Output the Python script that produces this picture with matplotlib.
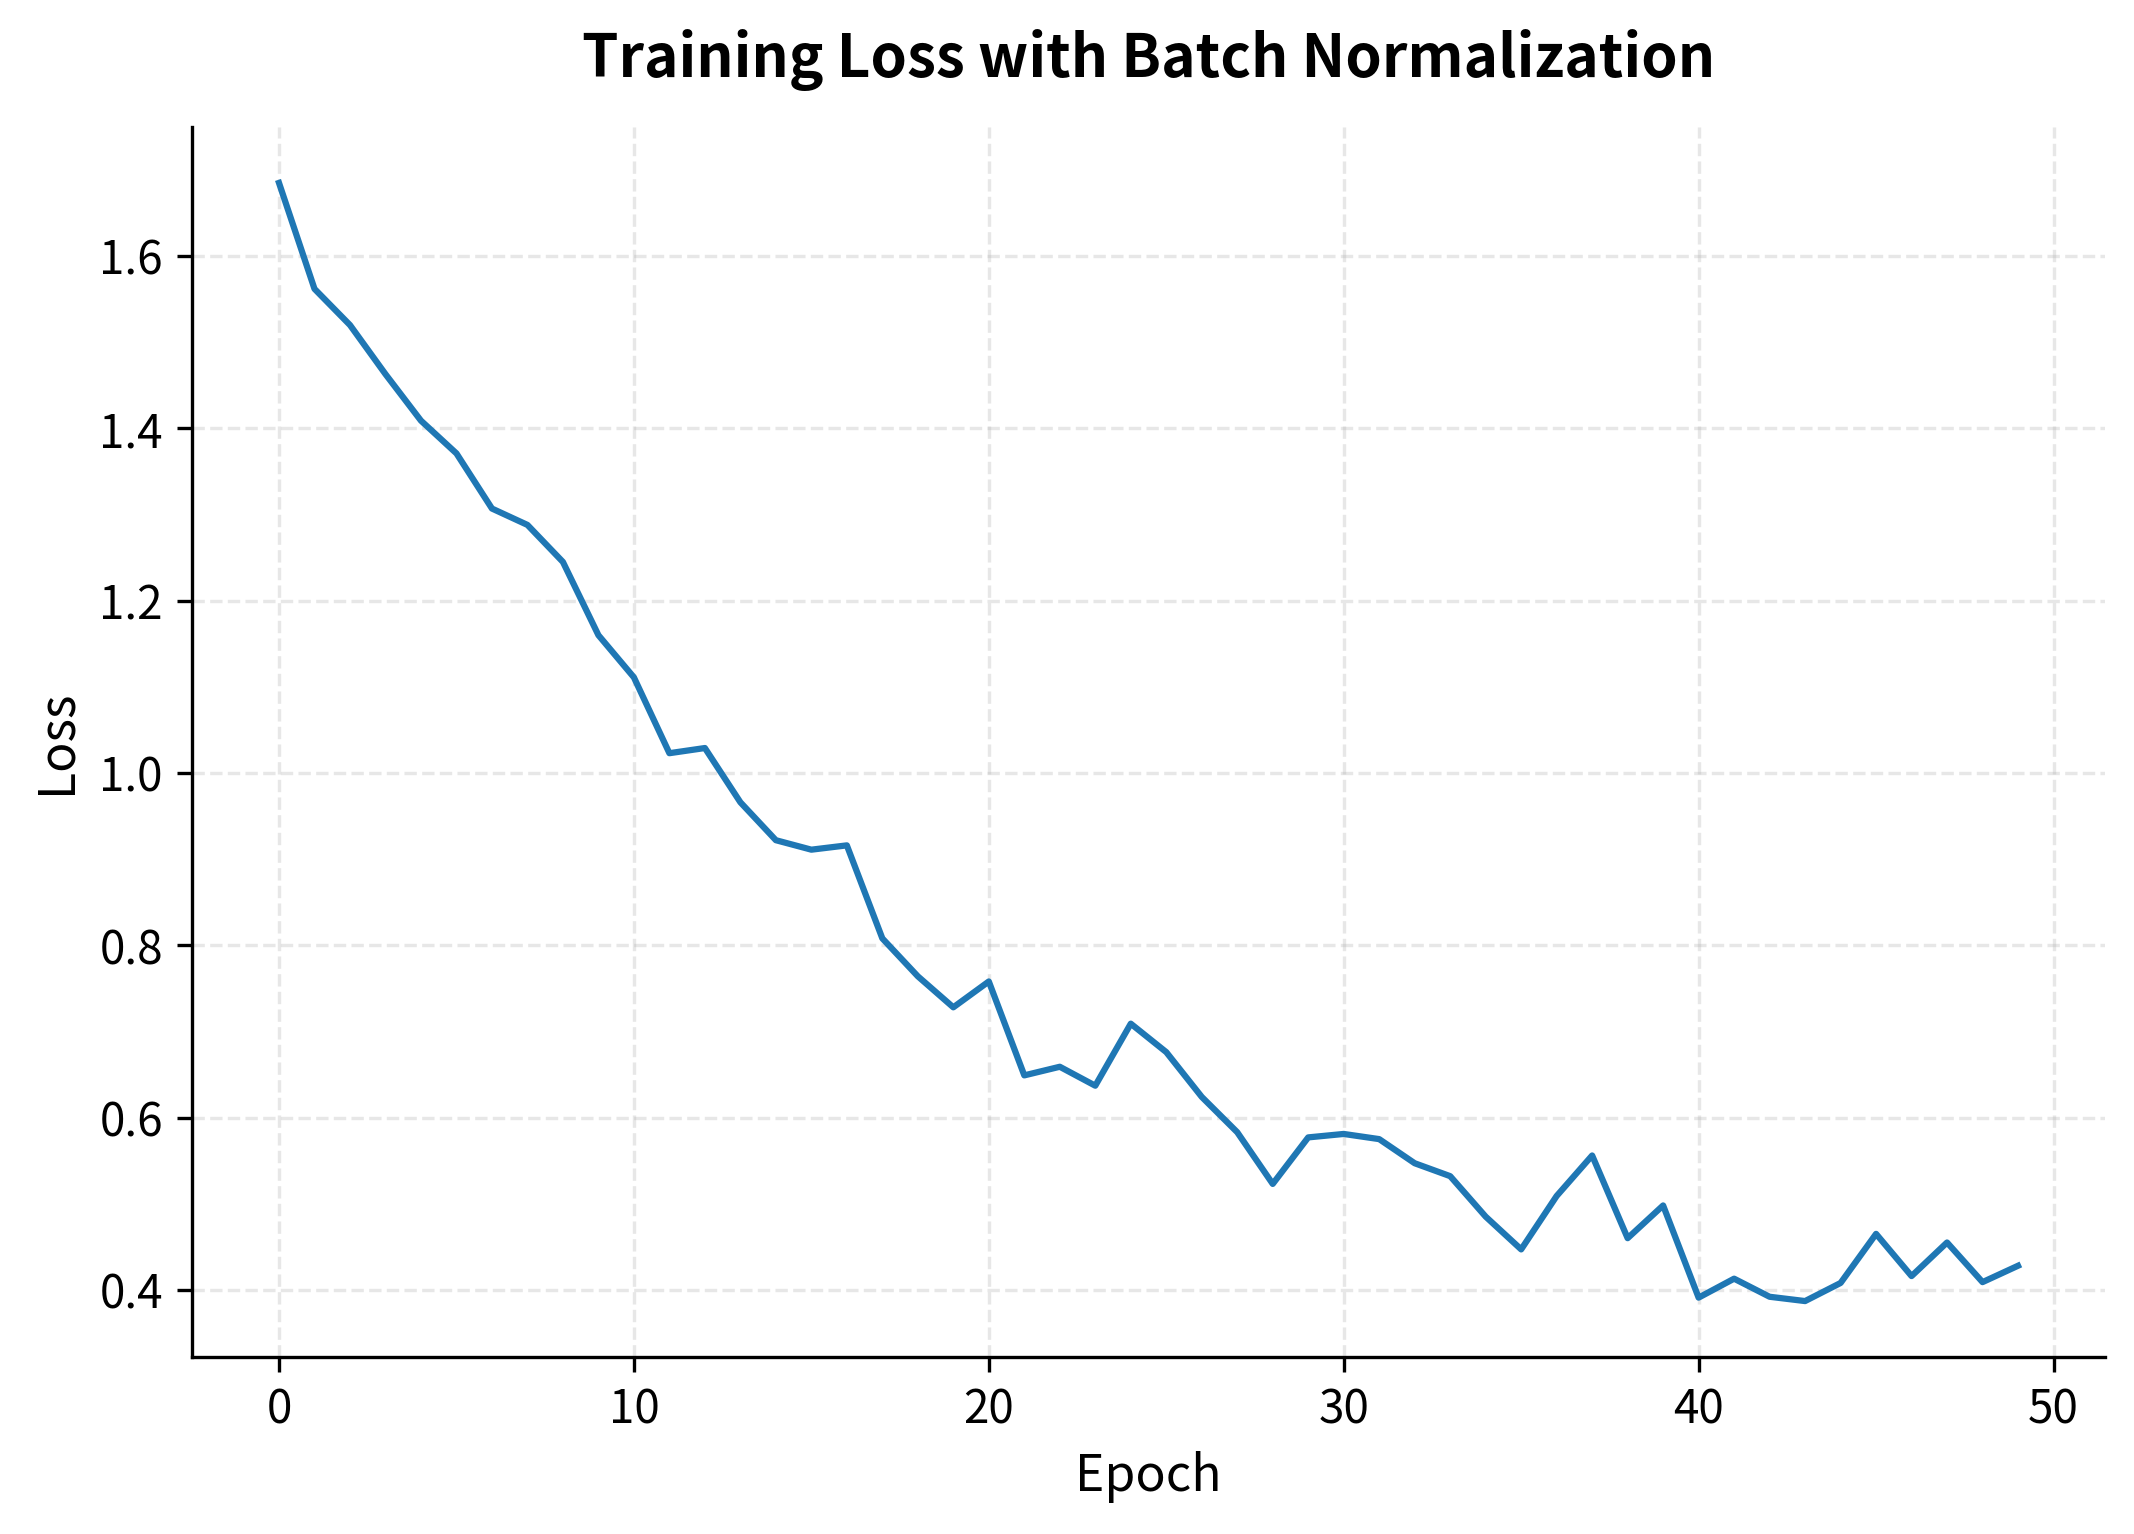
import matplotlib
matplotlib.use("Agg")
from matplotlib import pyplot as plt
import numpy as np

plt.rcParams['font.family'] = ['Noto Sans CJK SC', 'DejaVu Sans']

epochs = np.arange(50)
loss = [1.685, 1.562, 1.520, 1.463, 1.409, 1.371, 1.307, 1.288, 1.245, 1.160,
        1.111, 1.023, 1.029, 0.966, 0.922, 0.911, 0.916, 0.808, 0.764, 0.728,
        0.758, 0.649, 0.659, 0.637, 0.709, 0.676, 0.624, 0.583, 0.523, 0.577,
        0.581, 0.575, 0.547, 0.532, 0.485, 0.447, 0.509, 0.556, 0.460, 0.498,
        0.391, 0.413, 0.392, 0.387, 0.408, 0.465, 0.416, 0.455, 0.409, 0.428]

fig = plt.figure(figsize=(2134 / 300, 1534 / 300), dpi=300)
ax = fig.add_axes([0.090, 0.1154, 0.8964, 0.8018])

ax.plot(epochs, loss, color="#1f77b4", linewidth=1.5)

ax.set_title("Training Loss with Batch Normalization", fontsize=14, fontweight="bold", pad=12)
ax.set_xlabel("Epoch", fontsize=12)
ax.set_ylabel("Loss", fontsize=12)
ax.tick_params(labelsize=11)
ax.grid(True, linestyle="--", alpha=0.3)
ax.spines["top"].set_visible(False)
ax.spines["right"].set_visible(False)

fig.savefig("out.png", dpi=300)
